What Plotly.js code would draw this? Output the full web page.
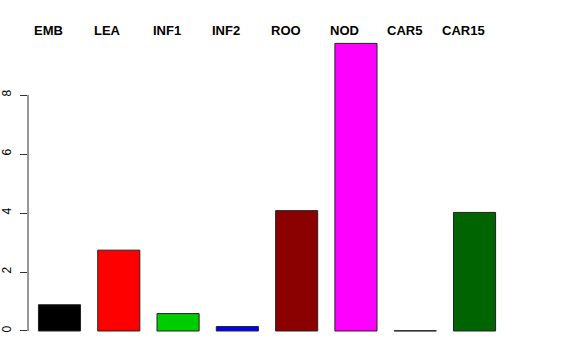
<!DOCTYPE html>
<html>
<head>
<meta charset="utf-8">
<script src="https://cdn.plot.ly/plotly-3.0.1.min.js"></script>
<style>html,body{margin:0;padding:0;background:#fff;}#chart{width:576px;height:360px;}</style>
</head>
<body>
<div id="chart"></div>
<script>
const categories = ["EMB", "LEA", "INF1", "INF2", "ROO", "NOD", "CAR5", "CAR15"];
const values = [0.89, 2.74, 0.59, 0.15, 4.08, 9.75, 0.01, 4.02];
const barColors = ["#000000", "#FF0000", "#00CD00", "#0000FF", "#8B0000", "#FF00FF", "#FFFF00", "#006400"];
const yTicks = [0, 2, 4, 6, 8];

const font = "'Liberation Sans', Arial, Helvetica, sans-serif";

const trace = {
  type: "bar",
  x: categories,
  y: values,
  marker: { color: barColors, line: { color: "#222222", width: 1 } },
  hoverinfo: "none"
};

const annotations = categories.map(c => ({
  x: c, xref: "x", y: 1, yref: "paper",
  text: "<b>" + c + "</b>", showarrow: false,
  xanchor: "center", yanchor: "middle", yshift: 12, xshift: -11,
  font: { family: font, size: 13, color: "#000" }
}));

const layout = {
  width: 576, height: 360,
  margin: { l: 28, r: 20, t: 42, b: 17, pad: 0 },
  paper_bgcolor: "#fff", plot_bgcolor: "#fff",
  showlegend: false,
  bargap: 0.29,
  font: { family: font, size: 11, color: "#000" },
  xaxis: {
    type: "category",
    range: [-0.531, 8.374],
    showticklabels: false, ticks: "", showgrid: false, zeroline: false, showline: false,
    fixedrange: true
  },
  yaxis: {
    range: [-0.407, 9.797],
    tickvals: yTicks,
    ticktext: yTicks.map(String),
    ticks: "outside", ticklen: 7, tickwidth: 1, tickcolor: "#333",
    tickangle: -90,
    ticklabelstandoff: 4,
    tickfont: { family: font, size: 12, color: "#000" },
    showgrid: false, zeroline: false, showline: false,
    fixedrange: true
  },
  shapes: [{
    type: "line", xref: "paper", x0: 0, x1: 0,
    yref: "y", y0: yTicks[0], y1: yTicks[yTicks.length - 1],
    line: { color: "#333", width: 1 }
  }],
  annotations: annotations
};

Plotly.newPlot("chart", [trace], layout, { displayModeBar: false, staticPlot: true });
</script>
</body>
</html>
